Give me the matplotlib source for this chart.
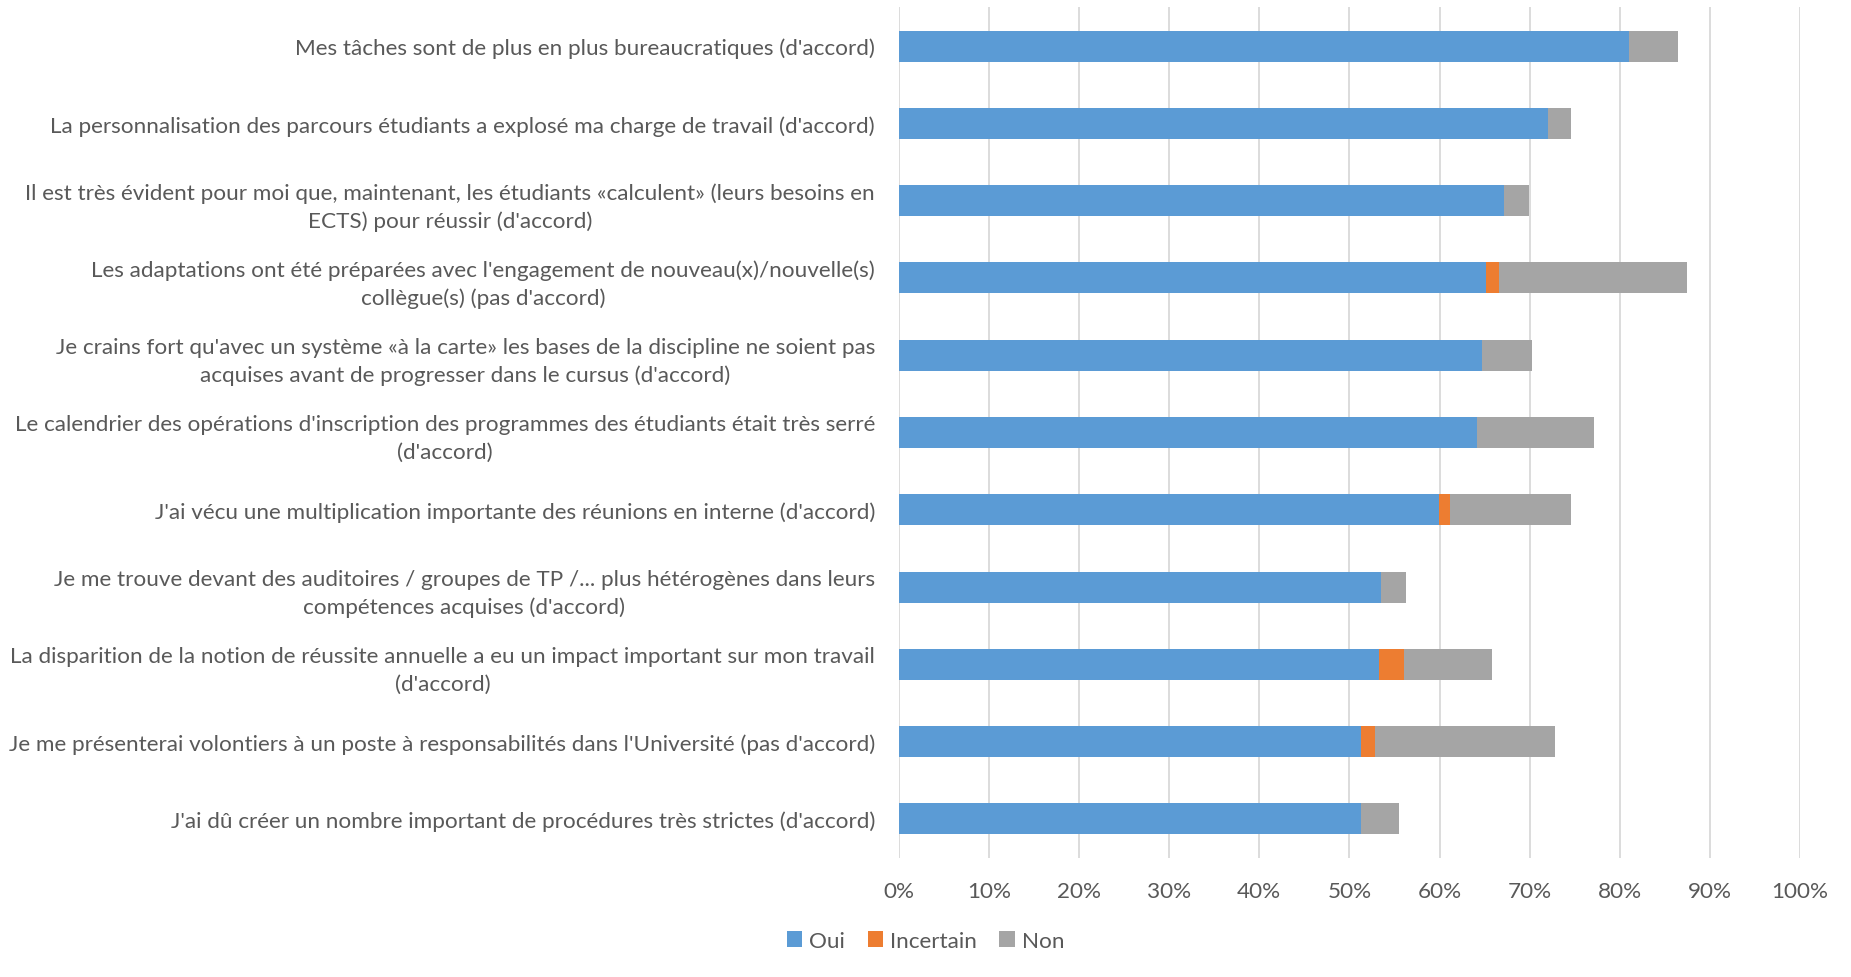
import matplotlib.pyplot as plt
from matplotlib.ticker import PercentFormatter
import numpy as np

### DATA ###
# statements, top to bottom as in the chart
labels = [
    "Mes tâches sont de plus en plus bureaucratiques (d'accord)",
    "La personnalisation des parcours étudiants a explosé ma charge de travail (d'accord)",
    "Il est très évident pour moi que, maintenant, les étudiants «calculent» (leurs besoins en\nECTS) pour réussir (d'accord)",
    "Les adaptations ont été préparées avec l'engagement de nouveau(x)/nouvelle(s)\ncollègue(s) (pas d'accord)",
    "Je crains fort qu'avec un système «à la carte» les bases de la discipline ne soient pas\nacquises avant de progresser dans le cursus (d'accord)",
    "Le calendrier des opérations d'inscription des programmes des étudiants était très serré\n(d'accord)",
    "J'ai vécu une multiplication importante des réunions en interne (d'accord)",
    "Je me trouve devant des auditoires / groupes de TP /... plus hétérogènes dans leurs\ncompétences acquises (d'accord)",
    "La disparition de la notion de réussite annuelle a eu un impact important sur mon travail\n(d'accord)",
    "Je me présenterai volontiers à un poste à responsabilités dans l'Université (pas d'accord)",
    "J'ai dû créer un nombre important de procédures très strictes (d'accord)",
]

# shares in %
oui = [81.0, 72.0, 67.1, 65.2, 64.7, 64.2, 59.9, 53.5, 53.3, 51.3, 51.3]
incertain = [0.0, 0.0, 0.0, 1.4, 0.0, 0.0, 1.3, 0.0, 2.8, 1.5, 0.0]
non = [5.4, 2.6, 2.8, 20.9, 5.6, 12.9, 13.4, 2.8, 9.7, 20.0, 4.2]

series_names = ["Oui", "Incertain", "Non"]
colors = ["#5B9BD5", "#ED7D31", "#A5A5A5"]

### PLOT ###
plt.rcParams['font.family'] = ['Lato', 'DejaVu Sans']

fig = plt.figure(figsize=(18.51, 9.78), dpi=100)
ax = fig.add_axes([0.4855, 0.1221, 0.4870, 0.8693])

y = np.arange(len(labels))
left = np.zeros(len(labels))
for name, vals, col in zip(series_names, [oui, incertain, non], colors):
    ax.barh(y, vals, left=left, height=0.4, color=col, label=name, zorder=3)
    left = left + np.array(vals)

ax.set_xlim(0, 100)
ax.set_ylim(len(labels) - 0.5, -0.5)
ax.set_xticks(np.arange(0, 101, 10))
ax.xaxis.set_major_formatter(PercentFormatter(decimals=0))
ax.set_yticks(y)
ax.set_yticklabels(labels, multialignment='center', linespacing=1.45)

ax.grid(axis='x', color='#D9D9D9', linewidth=1.3, zorder=0)
for s in ax.spines.values():
    s.set_visible(False)
ax.tick_params(axis='both', length=0, labelsize=16.2, colors='#595959')
ax.tick_params(axis='y', pad=17)
ax.tick_params(axis='x', pad=17)

fig.legend(loc='center', bbox_to_anchor=(0.5, 0.037), ncol=3, frameon=False,
           fontsize=16.2, handlelength=0.7, handleheight=0.7, handletextpad=0.3,
           columnspacing=1.0, labelcolor='#595959')

fig.savefig('out.png', dpi=100)
